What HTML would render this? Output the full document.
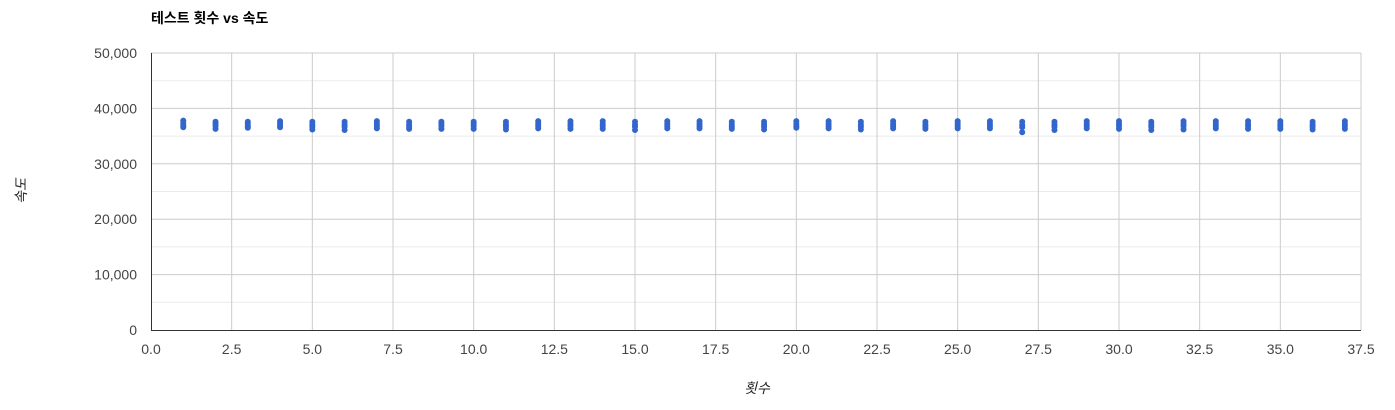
<!DOCTYPE html>
<html><head><meta charset="utf-8">
<style>
html,body{margin:0;padding:0;background:#fff;}
svg{display:block;font-family:"Liberation Sans","Noto Sans CJK KR",sans-serif;}
</style></head>
<body>
<svg id="chart" width="1395" height="410">
<text x="151" y="23" font-size="14" font-weight="bold" fill="#000">테스트 횟수 vs 속도</text>
<g id="grid"></g>
<g id="points"></g>
<g id="axes"></g>
<text x="757" y="393" font-size="14" font-style="italic" fill="#222" text-anchor="middle">횟수</text>
<text transform="translate(26,191) rotate(-90)" font-size="14" font-style="italic" fill="#222" text-anchor="middle">속도</text>
</svg>
<script>
const xTicks=[0,2.5,5,7.5,10,12.5,15,17.5,20,22.5,25,27.5,30,32.5,35,37.5];
const yTicks=[0,10000,20000,30000,40000,50000];
const runs=[1,2,3,4,5,6,7,8,9,10,11,12,13,14,15,16,17,18,19,20,21,22,23,24,25,26,27,28,29,30,31,32,33,34,35,36,37];
const speedHigh=[37800,37600,37600,37700,37600,37600,37700,37600,37600,37600,37600,37700,37700,37700,37600,37700,37700,37600,37600,37700,37700,37600,37700,37600,37700,37700,37600,37600,37700,37700,37600,37700,37700,37700,37700,37600,37700];
const speedMid1=[37300,37200,37200,37300,37100,37100,37200,37100,37200,37200,37100,37200,37200,37200,37100,37200,37200,37100,37100,37200,37200,37100,37200,37100,37200,37200,37000,37100,37200,37200,37100,37200,37200,37200,37200,37100,37200];
const speedMid2=[36900,36800,36800,36900,36700,36700,36800,36700,36800,36800,36700,36800,36800,36800,36700,36800,36800,36700,36700,36800,36800,36700,36800,36700,36800,36800,36600,36700,36800,36800,36700,36800,36800,36800,36800,36700,36800];
const speedLow=[36600,36300,36500,36600,36200,36100,36400,36300,36300,36300,36200,36400,36300,36300,36100,36400,36400,36300,36200,36500,36400,36200,36400,36300,36400,36400,35700,36100,36400,36300,36100,36200,36400,36300,36300,36200,36300];
const NS='http://www.w3.org/2000/svg';
const L=151,R=1361,T=53,B=330;
const xs=v=>L+(v/37.5)*(R-L);
const ys=v=>B-(v/50000)*(B-T);
function mk(tag,attrs,parent){const e=document.createElementNS(NS,tag);for(const k in attrs)e.setAttribute(k,attrs[k]);parent.appendChild(e);return e;}
const grid=document.getElementById('grid'),axes=document.getElementById('axes'),pts=document.getElementById('points');
// minor horizontal gridlines
for(let i=0;i<yTicks.length-1;i++){
  const v=(yTicks[i]+yTicks[i+1])/2;
  const l=mk('line',{x1:L,x2:R,y1:ys(v),y2:ys(v),stroke:'#ebebeb','stroke-width':1},grid);
  
  
}
yTicks.forEach(v=>{
  if(v>0){const l=mk('line',{x1:L,x2:R,y1:ys(v),y2:ys(v),stroke:'#cccccc','stroke-width':1},grid);
  
  }
  const t=mk('text',{x:L-14,y:ys(v)+5,'font-size':14,fill:'#444','text-anchor':'end'},axes);
  t.textContent=v.toLocaleString('en-US');
  
  
});
xTicks.forEach(v=>{
  if(v>0){const l=mk('line',{x1:xs(v),x2:xs(v),y1:T,y2:B,stroke:'#cccccc','stroke-width':1},grid);
  
  }
  const t=mk('text',{x:xs(v),y:354,'font-size':14,fill:'#444','text-anchor':'middle'},axes);
  t.textContent=v.toFixed(1);
  
  
});
const xa=mk('line',{x1:L,x2:R,y1:B+0.5,y2:B+0.5,stroke:'#333','stroke-width':1},axes);


const ya=mk('line',{x1:L+0.5,x2:L+0.5,y1:T,y2:B,stroke:'#333','stroke-width':1},axes);


[speedHigh,speedMid1,speedMid2,speedLow].forEach(series=>{
  runs.forEach((r,i)=>{
    const c=mk('circle',{cx:xs(r),cy:ys(series[i]),r:3,fill:'#3366cc'},pts);
    
    
  });
});
</script>
</body></html>
